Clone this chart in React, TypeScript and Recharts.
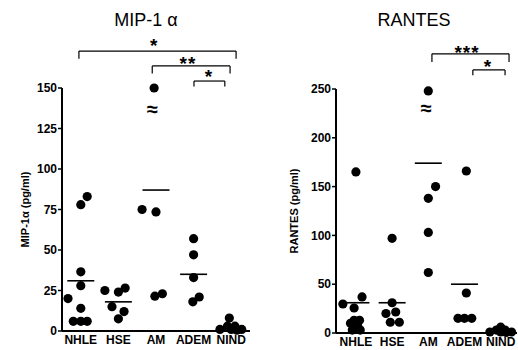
import React from "react";
import {
  ScatterChart,
  Scatter,
  XAxis,
  YAxis,
  ReferenceLine,
  ReferenceDot,
} from "recharts";

const categories = ["NHLE", "HSE", "AM", "ADEM", "NIND"];

// MIP-1α (pg/ml), one list per group, with horizontal jitter (in category units)
const mipValues = [
  [20, 78, 83, 36.5, 28, 14, 6, 6, 6],
  [25, 24, 26.5, 15, 12, 7.5],
  [75, 73.5, 21.5, 23, 150],
  [57, 47, 33, 21, 18],
  [8, 3, 3, 1, 1, 1, 0.5],
];
const mipJitter = [
  [-0.34, 0, 0.17, 0, 0, 0, -0.2, 0, 0.17],
  [-0.36, 0, 0.18, -0.17, 0.15, 0],
  [-0.37, 0, -0.03, 0.17, -0.05],
  [0, 0, 0, 0.15, -0.02],
  [-0.05, -0.1, 0.1, -0.3, 0, 0.28, 0.15],
];
const mipMeans = [31, 18, 87, 35, 1.5];

// RANTES (pg/ml)
const rantesValues = [
  [165, 37, 29.7, 25.6, 13, 13, 10, 7, 3, 3],
  [97, 31, 20, 21.5, 11, 11],
  [248, 150, 138, 103, 62],
  [166, 41, 15, 15, 15],
  [6, 3, 3, 1, 1, 1, 0.5],
];
const rantesJitter = [
  [0, 0.17, -0.36, -0.05, -0.05, 0.1, -0.15, 0.05, -0.1, 0.12],
  [0, 0, -0.17, 0.1, -0.05, 0.2],
  [0, 0.2, 0, 0, 0],
  [0.05, 0.05, -0.18, 0, 0.2],
  [0, -0.12, 0.12, -0.3, 0, 0.3, 0.15],
];
const rantesMeans = [31, 31, 174, 50, 2];

// significance brackets: [x1, x2, top, foot], and star labels: [x, y, text]
const mipBrackets = [
  [-0.05, 4.13, 172.8, 168],
  [1.9, 3.97, 163.6, 159],
  [3.01, 3.83, 154.3, 151],
];
const mipStars: [number, number, string][] = [
  [1.95, 176.5, "*"],
  [2.85, 165.5, "**"],
  [3.41, 157, "*"],
];
const mipBreak = [1.92, 137];

const rantesBrackets = [
  [2.1, 4.23, 286, 277.7],
  [3.23, 4.12, 269.5, 264],
];
const rantesStars: [number, number, string][] = [
  [3.07, 288, "***"],
  [3.65, 273.5, "*"],
];
const rantesBreak = [1.96, 230.5];

const FONT = "'Liberation Sans', Arial, sans-serif";

const toPoints = (values: number[][], jitter: number[][]) =>
  values.flatMap((vals, i) => vals.map((v, j) => ({ x: i + jitter[i][j], y: v })));

const toMeans = (means: number[]) => means.map((m, i) => ({ x: i, y: m }));

const Dot = (props: any) => <circle cx={props.cx} cy={props.cy} r={4.6} fill="#000" />;

const MeanLine = (props: any) => (
  <line x1={props.cx - 13.5} x2={props.cx + 13.5} y1={props.cy} y2={props.cy} stroke="#000" strokeWidth={1.6} />
);

function bracket(b: number[], key: string) {
  const [x1, x2, top, foot] = b;
  return [
    <ReferenceLine key={key + "t"} segment={[{ x: x1, y: top }, { x: x2, y: top }]} stroke="#000" strokeWidth={1.2} ifOverflow="visible" />,
    <ReferenceLine key={key + "l"} segment={[{ x: x1, y: top }, { x: x1, y: foot }]} stroke="#000" strokeWidth={1.2} ifOverflow="visible" />,
    <ReferenceLine key={key + "r"} segment={[{ x: x2, y: top }, { x: x2, y: foot }]} stroke="#000" strokeWidth={1.2} ifOverflow="visible" />,
  ];
}

function textDot(x: number, y: number, text: string, key: string, size: number) {
  return (
    <ReferenceDot
      key={key}
      x={x}
      y={y}
      r={0}
      ifOverflow="visible"
      label={{ value: text, position: "center", fill: "#000", fontSize: size, fontWeight: 700, fontFamily: FONT, letterSpacing: 1 }}
    />
  );
}

interface PanelProps {
  yLabel: string;
  values: number[][];
  jitter: number[][];
  means: number[];
  yMax: number;
  yTicks: number[];
  xDomain: [number, number];
  brackets: number[][];
  stars: [number, number, string][];
  breakAt: number[];
  width: number;
  top: number;
  bottomAxis: number;
  yAxisWidth: number;
  right: number;
  labelDx: number;
}

function Panel(p: PanelProps) {
  const tickStyle = { fill: "#000", fontSize: 12, fontWeight: 700, fontFamily: FONT };
  return (
    <ScatterChart
      width={p.width}
      height={350}
      margin={{ top: p.top, right: p.right, bottom: 0, left: 0 }}
    >
      <XAxis
        type="number"
        dataKey="x"
        domain={p.xDomain}
        ticks={[0, 1, 2, 3, 4]}
        tickFormatter={(i: number) => categories[i]}
        tickLine={false}
        tickMargin={0}
        axisLine={{ stroke: "#000", strokeWidth: 2 }}
        tick={{ ...tickStyle, dy: -2 }}
        height={p.bottomAxis}
        interval={0}
      />
      <YAxis
        type="number"
        dataKey="y"
        domain={[0, p.yMax]}
        ticks={p.yTicks}
        width={p.yAxisWidth}
        tickSize={4}
        tickMargin={1}
        tickLine={{ stroke: "#000", strokeWidth: 1.5 }}
        axisLine={{ stroke: "#000", strokeWidth: 2 }}
        tick={tickStyle}
        label={{
          value: p.yLabel,
          angle: -90,
          position: "center",
          dx: p.labelDx,
          fill: "#000",
          fontSize: 11,
          fontWeight: 700,
          fontFamily: FONT,
        }}
      />
      <Scatter data={toPoints(p.values, p.jitter)} shape={Dot} isAnimationActive={false} />
      <Scatter data={toMeans(p.means)} shape={MeanLine} isAnimationActive={false} />
      {p.brackets.flatMap((b, i) => bracket(b, "b" + i))}
      {p.stars.map(([x, y, t], i) => textDot(x, y, t, "s" + i, 19))}
      {textDot(p.breakAt[0], p.breakAt[1], "≈", "brk", 20)}
    </ScatterChart>
  );
}

export default function App() {
  const titleStyle: React.CSSProperties = {
    position: "absolute",
    top: 10,
    fontFamily: FONT,
    fontSize: 18,
    color: "#000",
    transform: "translateX(-50%)",
    whiteSpace: "nowrap",
  };
  return (
    <div style={{ position: "absolute", left: 0, top: 0, width: 518, height: 350, background: "#fff" }}>
      <div style={{ ...titleStyle, left: 146 }}>MIP-1 α</div>
      <div style={{ ...titleStyle, left: 414 }}>RANTES</div>
      <div style={{ position: "absolute", left: 0, top: 0 }}>
        <Panel
          yLabel="MIP-1α (pg/ml)"
          values={mipValues}
          jitter={mipJitter}
          means={mipMeans}
          yMax={150}
          yTicks={[0, 25, 50, 75, 100, 125, 150]}
          xDomain={[-0.5, 4.5]}
          brackets={mipBrackets}
          stars={mipStars}
          breakAt={mipBreak}
          width={260}
          top={88}
          bottomAxis={19}
          yAxisWidth={62}
          right={10}
          labelDx={-6}
        />
      </div>
      <div style={{ position: "absolute", left: 259, top: 0 }}>
        <Panel
          yLabel="RANTES (pg/ml)"
          values={rantesValues}
          jitter={rantesJitter}
          means={rantesMeans}
          yMax={250}
          yTicks={[0, 50, 100, 150, 200, 250]}
          xDomain={[-0.55, 4.45]}
          brackets={rantesBrackets}
          stars={rantesStars}
          breakAt={rantesBreak}
          width={259}
          top={89}
          bottomAxis={17}
          yAxisWidth={77}
          right={1}
          labelDx={-3.5}
        />
      </div>
    </div>
  );
}
